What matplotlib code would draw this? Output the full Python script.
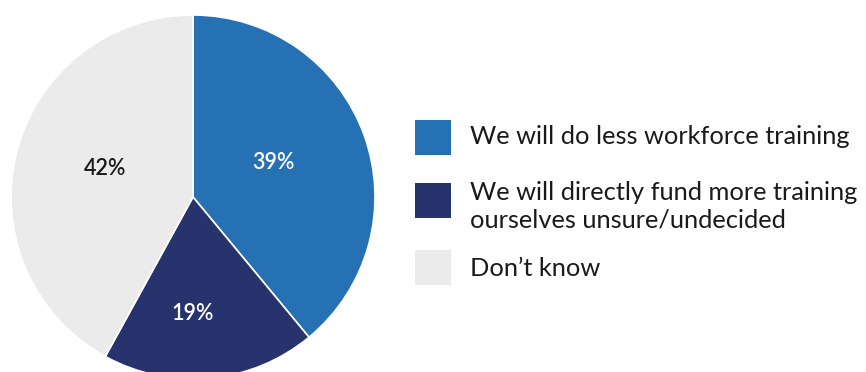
import matplotlib
matplotlib.use("Agg")
import matplotlib.pyplot as plt
from matplotlib.patches import Rectangle
import numpy as np

plt.rcParams['font.family'] = ['Lato', 'DejaVu Sans']

categories = [
    "We will do less workforce training",
    "We will directly fund more training\nourselves unsure/undecided",
    "Don\u2019t know",
]
values = [39, 19, 42]
colors = ["#2671B4", "#27336D", "#EBEBEB"]
label_colors = ["white", "white", "#1A1A1A"]

W, H = 866, 372
fig = plt.figure(figsize=(W / 100, H / 100), dpi=100)
ax = fig.add_axes([0, 0, 1, 1])

cx, cy, R = 193, H - 197, 182
wedges, _ = ax.pie(values, colors=colors, startangle=90, counterclock=False,
                   radius=R, center=(cx, cy),
                   wedgeprops=dict(edgecolor="white", linewidth=1.2))

# percentage labels placed along each slice (radius fraction, angle in degrees)
label_pos = [(0.48, 23), (0.64, -90), (0.51, 162)]
for v, (rf, ang), c in zip(values, label_pos, label_colors):
    a = np.deg2rad(ang)
    ax.text(cx + rf * R * np.cos(a), cy + rf * R * np.sin(a), f"{v}%",
            ha="center", va="center", fontsize=15.5, fontweight="semibold", color=c)

# legend drawn as swatches and text
legend_y = [137, 206, 268]
swatch_y = [137, 200, 267]
for y, sy, lab, col in zip(legend_y, swatch_y, categories, colors):
    ax.add_patch(Rectangle((415, H - sy - 18), 36, 35, facecolor=col, edgecolor="none"))
    ax.text(470, H - y, lab, ha="left", va="center", fontsize=18.3,
            color="#1A1A1A", linespacing=1.24)

ax.set_xlim(0, W)
ax.set_ylim(0, H)
ax.set_aspect("equal")
ax.axis("off")
fig.savefig("out.png", dpi=100, facecolor="white")
